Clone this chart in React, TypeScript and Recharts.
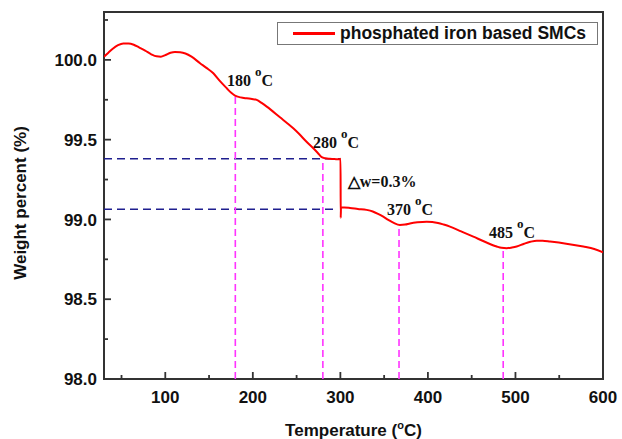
import {
  LineChart,
  Line,
  XAxis,
  YAxis,
  ReferenceLine,
  ReferenceDot,
  ReferenceArea,
  Legend,
} from "recharts";

// TGA curve
const temperature = [
  30, 35, 40, 46, 52, 58, 64, 70, 77, 84, 90, 95, 100, 106, 111, 117, 123, 130,
  139.7, 147, 154.9, 162, 170.2, 175, 179.6, 186, 193, 199, 204.4, 210, 215.9,
  220, 231, 240, 246.2, 253, 260.8, 269.1, 274, 278.7, 283, 288, 294, 299.6,
  300.2, 300.4, 300.7, 311, 320, 330, 337, 343, 349, 354.8, 361, 368, 374,
  379.5, 388, 398.6, 405, 411.5, 418, 425.2, 438, 451.9, 465, 478.6, 484, 490,
  496, 501.4, 510, 517, 524.3, 531, 539.5, 558, 577.5, 590, 600,
];
const weightPercent = [
  100.02, 100.045, 100.07, 100.092, 100.103, 100.103, 100.095, 100.078, 100.058,
  100.035, 100.022, 100.02, 100.03, 100.045, 100.05, 100.048, 100.04, 100.02,
  99.979, 99.95, 99.916, 99.87, 99.822, 99.795, 99.776, 99.765, 99.759, 99.755,
  99.749, 99.73, 99.707, 99.69, 99.64, 99.6, 99.571, 99.535, 99.49, 99.446,
  99.418, 99.39, 99.383, 99.38, 99.378, 99.377, 99.38, 99.01, 99.076, 99.072,
  99.066, 99.06, 99.05, 99.035, 99.017, 98.997, 98.978, 98.965, 98.968, 98.975,
  98.982, 98.986, 98.984, 98.978, 98.968, 98.955, 98.925, 98.892, 98.86, 98.83,
  98.822, 98.82, 98.824, 98.83, 98.848, 98.86, 98.867, 98.866, 98.861, 98.848,
  98.83, 98.815, 98.794,
];

const xTicks = [50, 100, 150, 200, 250, 300, 350, 400, 450, 500, 550, 600];
const yTicks = [98, 98.25, 98.5, 98.75, 99, 99.25, 99.5, 99.75, 100, 100.25];

// dashed guide lines
const stepLevels = [99.38, 99.064];
const stepEnds = [300, 296];
const peakTemps = [180, 280, 367, 486];
const peakTops = [99.776, 99.38, 98.965, 98.82];

// annotations (anchor = left end of text baseline)
const labelText = ["180", "280", "\u25B3w=0.3%", "370", "485"];
const labelHasUnit = [true, true, false, true, true];
const labelX = [170.5, 268.7, 308.4, 353.3, 469.8];
const labelY = [99.836, 99.448, 99.205, 99.028, 98.884];

const data = temperature.map((t, i) => ({ t, w: weightPercent[i] }));

const SANS = "'Liberation Sans', Arial, sans-serif";
const SERIF = "'Liberation Serif', 'Times New Roman', serif";
const AXIS = "#333";
const GAP = 10;

const XTick = (props: any) => {
  const { x, y, payload } = props;
  const axisY = y - GAP;
  const major = payload.value % 100 === 0;
  return (
    <g>
      <line x1={x} x2={x} y1={axisY} y2={axisY - (major ? 7 : 4)} stroke={AXIS} strokeWidth={1.8} />
      {major && (
        <text x={x} y={axisY + 24} textAnchor="middle" fontFamily={SANS} fontWeight="bold" fontSize={17} fill="#111">
          {payload.value}
        </text>
      )}
    </g>
  );
};

const YTick = (props: any) => {
  const { x, y, payload } = props;
  const axisX = x + GAP;
  const major = Math.abs(payload.value * 2 - Math.round(payload.value * 2)) < 1e-6;
  return (
    <g>
      <line x1={axisX} x2={axisX + (major ? 7 : 4)} y1={y} y2={y} stroke={AXIS} strokeWidth={1.8} />
      {major && (
        <text x={axisX - 7} y={y} dy="0.36em" textAnchor="end" fontFamily={SANS} fontWeight="bold" fontSize={17} fill="#111">
          {payload.value.toFixed(1)}
        </text>
      )}
    </g>
  );
};

const YLabel = (props: any) => {
  const vb = props.viewBox || { x: 0 };
  const x = vb.x + 26;
  const y = 203;
  return (
    <text x={x} y={y} transform={`rotate(-90, ${x}, ${y})`} textAnchor="middle" fontFamily={SANS} fontWeight="bold" fontSize={17} fill="#111">
      Weight percent (%)
    </text>
  );
};

const XLabel = (props: any) => {
  const vb = props.viewBox || { x: 104, y: 379, width: 499 };
  return (
    <text x={vb.x + vb.width / 2} y={vb.y + 57} textAnchor="middle" fontFamily={SANS} fontWeight="bold" fontSize={17} fill="#111">
      Temperature (<tspan fontSize={11} dy={-7}>o</tspan>
      <tspan dy={7}>C)</tspan>
    </text>
  );
};

const renderLegend = () => (
  <div
    style={{
      boxSizing: "border-box",
      width: 321,
      height: 23,
      border: "1.5px solid #777",
      display: "flex",
      alignItems: "center",
      background: "#fff",
    }}
  >
    <div style={{ width: 42, height: 2.5, background: "#ff0000", marginLeft: 15 }} />
    <span style={{ marginLeft: 5, fontFamily: SANS, fontWeight: "bold", fontSize: 17.5, color: "#111" }}>
      phosphated iron based SMCs
    </span>
  </div>
);

export default function App() {
  return (
    <div style={{ position: "absolute", left: 0, top: 0, background: "#fff" }}>
      <LineChart width={622} height={439} data={data} margin={{ top: 12, right: 19, bottom: 0, left: 0 }}>
        <XAxis
          dataKey="t"
          type="number"
          domain={[30, 600]}
          ticks={xTicks}
          interval={0}
          allowDataOverflow
          axisLine={false}
          tickLine={false}
          tickSize={0}
          tickMargin={GAP}
          height={60}
          tick={<XTick />}
          label={<XLabel />}
        />
        <YAxis
          type="number"
          domain={[98, 100.3]}
          ticks={yTicks}
          interval={0}
          allowDataOverflow
          axisLine={false}
          tickLine={false}
          tickSize={0}
          tickMargin={GAP}
          width={104}
          tick={<YTick />}
          label={<YLabel />}
        />
        <ReferenceArea x1={30} x2={600} y1={98} y2={100.3} fill="none" fillOpacity={0} stroke={AXIS} strokeWidth={2} />
        {stepLevels.map((lvl, i) => (
          <ReferenceLine
            key={"h" + i}
            segment={[{ x: 30, y: lvl }, { x: stepEnds[i], y: lvl }]}
            stroke="#1f1f8f"
            strokeWidth={1.6}
            strokeDasharray="8 5"
          />
        ))}
        {peakTemps.map((t, i) => (
          <ReferenceLine
            key={"v" + i}
            segment={[{ x: t, y: 98 }, { x: t, y: peakTops[i] }]}
            stroke="#ff33ff"
            strokeWidth={1.6}
            strokeDasharray="7 4"
          />
        ))}
        <Line
          type="monotone"
          dataKey="w"
          stroke="#ff0000"
          strokeWidth={2}
          dot={false}
          isAnimationActive={false}
        />
        {labelText.map((txt, i) => (
          <ReferenceDot
            key={"l" + i}
            x={labelX[i]}
            y={labelY[i]}
            r={0}
            shape={(p: any) => (
              <text x={p.cx} y={p.cy} fontFamily={SERIF} fontWeight="bold" fontSize={16} fill="#111">
                {txt}
                {labelHasUnit[i] && (
                  <>
                    {" "}
                    <tspan fontSize={13} dy={-10}>o</tspan>
                    <tspan dy={10}>C</tspan>
                  </>
                )}
              </text>
            )}
          />
        ))}
        <Legend
          layout="vertical"
          verticalAlign="middle"
          align="center"
          wrapperStyle={{ position: "absolute", left: 277, top: 22, width: 321, height: 23 }}
          content={renderLegend}
        />
      </LineChart>
    </div>
  );
}
